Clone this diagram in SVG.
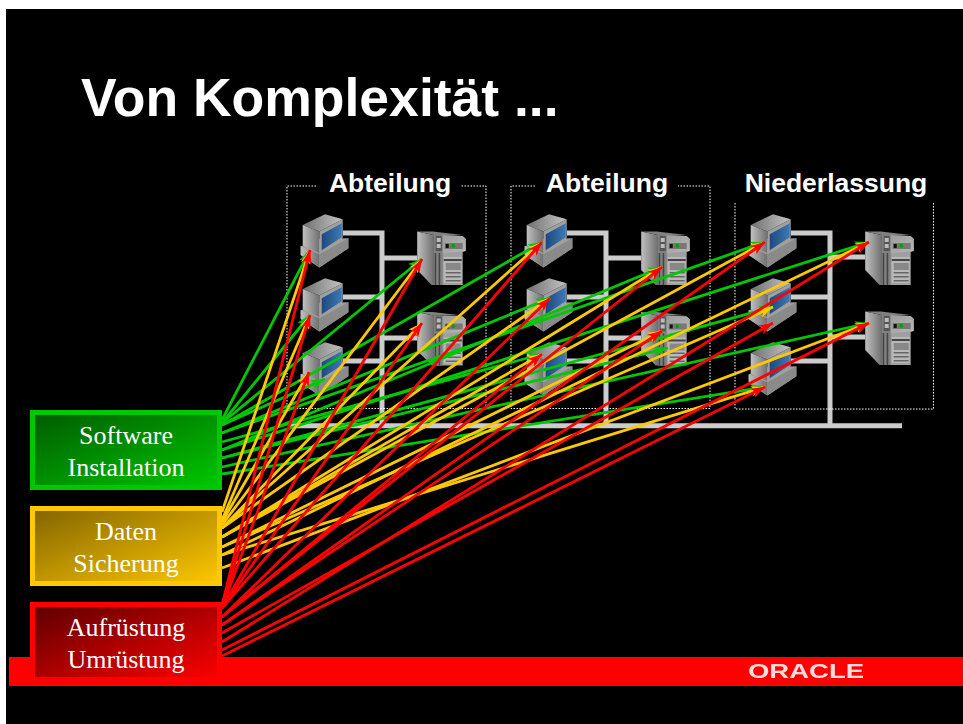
<svg xmlns="http://www.w3.org/2000/svg" xmlns:xlink="http://www.w3.org/1999/xlink" width="963" height="724" viewBox="0 0 963 724">
<style>
.title{font:bold 53.5px "Liberation Sans",Arial,sans-serif;fill:#fff}
.lab{font:bold 26.5px "Liberation Sans",Arial,sans-serif;fill:#fff;text-anchor:middle}
.bt{font:26px "Liberation Serif","Times New Roman",serif;fill:#fff;text-anchor:middle}
.dot{fill:none;stroke:#fff;stroke-width:1;stroke-dasharray:1.5 1.5}
.net{fill:none;stroke:#cccccc;stroke-width:5}
.g{stroke:#00c800;stroke-width:2.8;fill:none;marker-end:url(#ag)}
.y{stroke:#ffc800;stroke-width:2.8;fill:none;marker-end:url(#ay)}
.r{stroke:#ff0000;stroke-width:2.8;fill:none;marker-end:url(#ar)}
</style>
<defs>
<marker id="ag" markerUnits="userSpaceOnUse" markerWidth="15" markerHeight="12" refX="14" refY="6" orient="auto"><path d="M0,1 L14,6 L0,11 L3.500,6Z" fill="#00c800"/></marker>
<marker id="ay" markerUnits="userSpaceOnUse" markerWidth="15" markerHeight="12" refX="14" refY="6" orient="auto"><path d="M0,1 L14,6 L0,11 L3.500,6Z" fill="#ffc800"/></marker>
<marker id="ar" markerUnits="userSpaceOnUse" markerWidth="15" markerHeight="12" refX="14" refY="6" orient="auto"><path d="M0,1 L14,6 L0,11 L3.500,6Z" fill="#ff0000"/></marker>
<linearGradient id="gg" x1="0" y1="0" x2="1" y2="1"><stop offset="0" stop-color="#005a00"/><stop offset="1" stop-color="#00c800"/></linearGradient>
<linearGradient id="gy" x1="0" y1="0" x2="1" y2="1"><stop offset="0" stop-color="#826400"/><stop offset="1" stop-color="#ffc800"/></linearGradient>
<linearGradient id="gr" x1="0" y1="0" x2="1" y2="1"><stop offset="0" stop-color="#5a0000"/><stop offset="1" stop-color="#ff0000"/></linearGradient>
<linearGradient id="side" x1="0" y1="0" x2="1" y2="0"><stop offset="0" stop-color="#c0c0c0"/><stop offset="1" stop-color="#707070"/></linearGradient>
<linearGradient id="top" x1="0" y1="0" x2="1" y2="0"><stop offset="0" stop-color="#707070"/><stop offset="1" stop-color="#c4c4c4"/></linearGradient>
<linearGradient id="front" x1="0" y1="0" x2="1" y2="1"><stop offset="0" stop-color="#9c9c9c"/><stop offset="1" stop-color="#b8b8b8"/></linearGradient>
<linearGradient id="scr" x1="0" y1="0" x2="1" y2="0"><stop offset="0" stop-color="#1c4a80"/><stop offset="1" stop-color="#3f78b4"/></linearGradient>
<filter id="soft"><feGaussianBlur stdDeviation="0.6"/></filter>
<g id="pc">
<polygon points="0,32 18.7,25 47.7,24 47.7,34 18.7,53.3 0,40.7" fill="#a0a0a0"/>
<polygon points="0,32 18.7,40 18.7,53.3 0,40.7" fill="url(#side)"/>
<polygon points="18.7,40 47.7,24 47.7,34 18.7,53.3" fill="#8a8a8a"/>
<polygon points="2,10.7 24.3,0 42,5 18.7,17.3" fill="url(#top)"/>
<polygon points="2,10.7 18.7,17.3 18.7,39 2,31" fill="url(#side)"/>
<polygon points="18.7,17.3 42,5 42,24 18.7,39" fill="#a0a0a0"/>
<polygon points="21,20 41,9 41,23 21,36" fill="url(#scr)"/>
</g>
<g id="srv">
<polygon points="0.5,0.5 17,4 17,54 15,54 0.5,39" fill="url(#side)"/>
<polygon points="0.5,0.5 16,0.5 46,4 17,4" fill="#808080"/>
<polygon points="17,4 46,5 49,8 49,20 46,21 46,54 17,54" fill="#a0a0a0"/>
<polygon points="26,4 46,5 49,8 49,20 26,22" fill="url(#front)"/>
<rect x="17" y="4" width="9" height="50" fill="#808080"/>
<rect x="18" y="22" width="1.5" height="32" fill="#444"/>
<rect x="22" y="22" width="1.5" height="32" fill="#444"/>
<rect x="19" y="5" width="6" height="15" fill="#555"/>
<rect x="20" y="7" width="4" height="4" fill="#bbb"/>
<rect x="20" y="13" width="4" height="4" fill="#bbb"/>
<rect x="28" y="12" width="18" height="6" fill="#777"/>
<rect x="29" y="13" width="3" height="4" fill="#111"/>
<rect x="35" y="13" width="3" height="3.5" fill="#00a000"/>
<rect x="27" y="26" width="18" height="26" fill="#b8b8b8"/>
<rect x="27" y="28" width="18" height="2" fill="#444"/>
<rect x="29" y="32" width="15" height="7" fill="#888"/>
<rect x="29" y="41" width="15" height="1.5" fill="#666"/>
<rect x="29" y="45" width="15" height="1.5" fill="#666"/>
<rect x="29" y="49" width="15" height="1.5" fill="#666"/>
</g>
</defs>
<rect x="0" y="0" width="963" height="724" fill="#fff"/>
<rect x="6" y="9" width="957" height="715" fill="#000"/>
<rect x="9" y="657" width="954" height="29" fill="#f00"/>
<text class="title" x="81" y="116">Von Komplexität ...</text>
<g id="network">
<path class="net" d="M290,425.700H902"/>
<path class="net" d="M343,233H382V425M343,297H382M343,361H382M382,258H417M382,338H417"/>
<path class="net" d="M567,233H606V425M567,297H606M567,361H606M606,258H641M606,338H641"/>
<path class="net" d="M791,233H830V425M791,297H830M791,361H830M830,257H865M830,337H865"/>
</g>
<g id="dept1"><path class="dot" d="M316,186H287V408.500H486V186H461"/><text class="lab" x="390" y="192">Abteilung</text></g>
<g id="dept2"><path class="dot" d="M535,186H511V408.500H710V186H678"/><text class="lab" x="607" y="192">Abteilung</text></g>
<g id="branch"><path class="dot" d="M735,203V409H933.500V203"/><text class="lab" x="836" y="192">Niederlassung</text></g>
<g id="pc1a"><use href="#pc" x="300.700" y="214.300"/></g>
<g id="pc1b"><use href="#pc" x="300.700" y="278.300"/></g>
<g id="pc1c"><use href="#pc" x="300.700" y="342.300"/></g>
<g id="srv1a"><use href="#srv" x="416.700" y="231"/></g>
<g id="srv1b"><use href="#srv" x="416.700" y="311.500"/></g>
<g id="pc2a"><use href="#pc" x="524.700" y="214.300"/></g>
<g id="pc2b"><use href="#pc" x="524.700" y="278.300"/></g>
<g id="pc2c"><use href="#pc" x="524.700" y="342.300"/></g>
<g id="srv2a"><use href="#srv" x="640.700" y="231"/></g>
<g id="srv2b"><use href="#srv" x="640.700" y="311.500"/></g>
<g id="pc3a"><use href="#pc" x="748.700" y="214.300"/></g>
<g id="pc3b"><use href="#pc" x="748.700" y="278.300"/></g>
<g id="pc3c"><use href="#pc" x="748.700" y="342.300"/></g>
<g id="srv3a"><use href="#srv" x="864.700" y="231"/></g>
<g id="srv3b"><use href="#srv" x="864.700" y="311"/></g>
<g id="connectors">
<line class="g" x1="222" y1="420" x2="310" y2="250"/>
<line class="g" x1="222" y1="423" x2="310" y2="315"/>
<line class="g" x1="222" y1="425" x2="325" y2="379"/>
<line class="g" x1="222" y1="423" x2="422" y2="259"/>
<line class="g" x1="222" y1="425" x2="542" y2="242"/>
<line class="g" x1="222" y1="433" x2="550" y2="298"/>
<line class="g" x1="222" y1="442" x2="542" y2="354"/>
<line class="g" x1="222" y1="450" x2="662" y2="267"/>
<line class="g" x1="222" y1="458" x2="668" y2="348"/>
<line class="g" x1="222" y1="433" x2="765" y2="242"/>
<line class="g" x1="222" y1="458" x2="773" y2="307"/>
<line class="g" x1="222" y1="474" x2="765" y2="387"/>
<line class="g" x1="222" y1="450" x2="869" y2="242"/>
<line class="g" x1="222" y1="467" x2="869" y2="323"/>
<line class="y" x1="222" y1="512" x2="310" y2="250"/>
<line class="y" x1="222" y1="520" x2="310" y2="315"/>
<line class="y" x1="222" y1="522" x2="309" y2="372"/>
<line class="y" x1="222" y1="525" x2="422" y2="259"/>
<line class="y" x1="222" y1="528" x2="422" y2="323"/>
<line class="y" x1="222" y1="528" x2="542" y2="242"/>
<line class="y" x1="222" y1="528" x2="550" y2="298"/>
<line class="y" x1="222" y1="537" x2="542" y2="354"/>
<line class="y" x1="222" y1="537" x2="662" y2="267"/>
<line class="y" x1="222" y1="547" x2="662" y2="331"/>
<line class="y" x1="222" y1="537" x2="765" y2="242"/>
<line class="y" x1="222" y1="547" x2="773" y2="307"/>
<line class="y" x1="222" y1="555" x2="765" y2="387"/>
<line class="y" x1="222" y1="555" x2="869" y2="242"/>
<line class="y" x1="222" y1="568" x2="869" y2="323"/>
<line class="r" x1="222" y1="605" x2="310" y2="250"/>
<line class="r" x1="222" y1="606" x2="310" y2="315"/>
<line class="r" x1="222" y1="608" x2="309" y2="372"/>
<line class="r" x1="222" y1="608" x2="422" y2="259"/>
<line class="r" x1="222" y1="608" x2="422" y2="323"/>
<line class="r" x1="222" y1="608" x2="542" y2="242"/>
<line class="r" x1="222" y1="617" x2="550" y2="298"/>
<line class="r" x1="222" y1="617" x2="542" y2="354"/>
<line class="r" x1="222" y1="617" x2="662" y2="267"/>
<line class="r" x1="222" y1="625" x2="662" y2="331"/>
<line class="r" x1="222" y1="625" x2="765" y2="242"/>
<line class="r" x1="222" y1="633" x2="773" y2="323"/>
<line class="r" x1="222" y1="656" x2="765" y2="387"/>
<line class="r" x1="222" y1="642" x2="869" y2="242"/>
<line class="r" x1="222" y1="650" x2="869" y2="323"/>
</g>
<g id="box-software"><rect x="32.500" y="412.500" width="187" height="75" fill="url(#gg)" stroke="#00c800" stroke-width="5"/><text class="bt" x="126" y="444">Software</text><text class="bt" x="126" y="476">Installation</text></g>
<g id="box-daten"><rect x="32.500" y="508.500" width="187" height="75" fill="url(#gy)" stroke="#ffc800" stroke-width="5"/><text class="bt" x="126" y="540">Daten</text><text class="bt" x="126" y="572">Sicherung</text></g>
<g id="box-aufruestung"><rect x="32.500" y="604.500" width="187" height="75" fill="url(#gr)" stroke="#f00" stroke-width="5"/><text class="bt" x="126" y="636">Aufrüstung</text><text class="bt" x="126" y="668">Umrüstung</text></g>
<text x="748" y="678" font-family="Liberation Sans, Arial, sans-serif" font-size="21" font-weight="bold" fill="#ffdcdc" textLength="116" lengthAdjust="spacingAndGlyphs" filter="url(#soft)">ORACLE</text>
</svg>
